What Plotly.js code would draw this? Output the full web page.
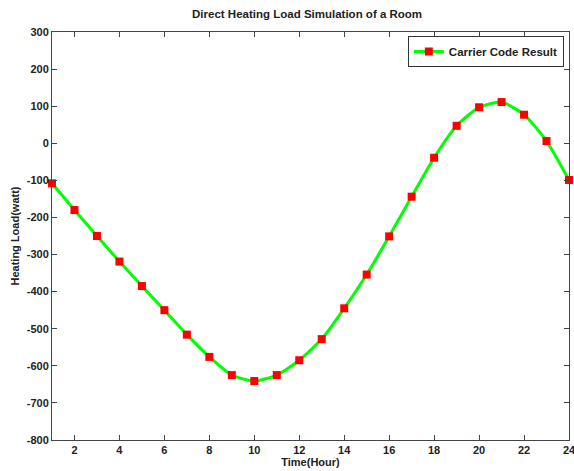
<!DOCTYPE html>
<html>
<head>
<meta charset="utf-8">
<script src="https://cdn.plot.ly/plotly-3.0.1.min.js"></script>
<style>html,body{margin:0;padding:0;background:#fff;}#chart{width:574px;height:471px;}</style>
</head>
<body>
<div id="chart"></div>
<script>
const hours = [1,2,3,4,5,6,7,8,9,10,11,12,13,14,15,16,17,18,19,20,21,22,23,24];
const heatingLoad = [-108,-180,-250,-319,-385,-450,-516,-576,-625,-641,-625,-585,-528,-445,-354,-251,-144,-39,47,97,111,77,6,-99];
const xTicks = [2,4,6,8,10,12,14,16,18,20,22,24];
const yTicks = [-800,-700,-600,-500,-400,-300,-200,-100,0,100,200,300];

const font = {family: 'Liberation Sans, Arial, sans-serif', size: 11, color: '#222', weight: 'bold'};

const trace = {
  x: hours, y: heatingLoad, type: 'scatter', mode: 'lines+markers',
  name: 'Carrier Code Result',
  line: {color: '#00ff00', width: 3, shape: 'spline', smoothing: 0.6},
  marker: {color: '#ff0000', symbol: 'square', size: 8},
  cliponaxis: false
};

const axisCommon = {
  showline: true, linecolor: '#444', linewidth: 1, mirror: 'ticks',
  ticks: 'inside', ticklen: 5, tickcolor: '#444', tickwidth: 1,
  showgrid: false, zeroline: false, tickfont: font, ticklabeloverflow: 'allow'
};

const layout = {
  width: 574, height: 471,
  margin: {l: 52, r: 5, t: 32, b: 31},
  paper_bgcolor: '#fff', plot_bgcolor: '#fff',
  title: {text: 'Direct Heating Load Simulation of a Room', font: Object.assign({}, font, {size: 11.5}), x: 0.535, xanchor: 'center', y: 0.97, yanchor: 'middle'},
  xaxis: Object.assign({}, axisCommon, {
    range: [1, 24], tickmode: 'array', tickvals: xTicks, ticktext: xTicks.map(String),
    title: {text: 'Time(Hour)', font: font, standoff: 2}
  }),
  yaxis: Object.assign({}, axisCommon, {
    range: [-800, 300], tickmode: 'array', tickvals: yTicks, ticktext: yTicks.map(String),
    title: {text: 'Heating Load(watt)', font: font, standoff: 4}
  }),
  showlegend: true,
  legend: {x: 0.99, y: 0.99, xanchor: 'right', yanchor: 'top', bgcolor: '#fff', bordercolor: '#333', borderwidth: 1,
    font: {family: 'Liberation Sans, Arial, sans-serif', size: 11.5, color: '#222', weight: 'bold'}, itemwidth: 30,
    tracegroupgap: 0}
};

Plotly.newPlot('chart', [trace], layout, {displayModeBar: false, staticPlot: true});
</script>
</body>
</html>
